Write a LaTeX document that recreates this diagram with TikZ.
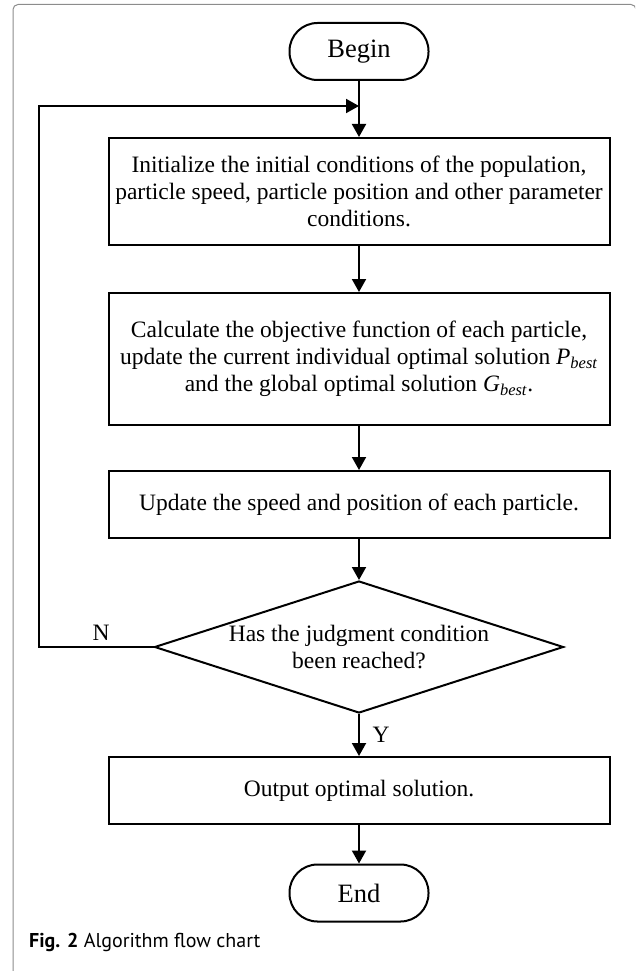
\documentclass[tikz,border=0pt]{standalone}
\usepackage{fontspec}
\setmainfont{Liberation Serif}
\newfontfamily\capfont{PT Sans}
\usetikzlibrary{arrows.meta,shapes.geometric}
\tikzset{
  every node/.style={font=\fontsize{23.5}{27}\selectfont},
  procbox/.style={draw, line width=2pt, minimum width=501pt, align=center, inner sep=0pt},
  termbox/.style={draw, line width=2pt, minimum width=139pt, minimum height=57pt, rounded corners=28pt, font=\fontsize{26.5}{30}\selectfont},
  decbox/.style={draw, line width=2pt, diamond, aspect=3.1, minimum width=409pt, minimum height=132pt, inner sep=0pt, align=center},
  flow/.style={line width=2pt, -{Triangle[length=13pt,width=14pt]}},
  lbl/.style={inner sep=0pt},
  captext/.style={anchor=west, inner sep=0pt, font=\capfont\fontsize{20}{24}\selectfont},
}
\begin{document}
\begin{tikzpicture}[x=1pt,y=1pt]
\useasboundingbox (0,0) rectangle (635,-971);
\begin{scope}
\clip (0,0) rectangle (635,-971);
\draw[line width=1pt, black!45, rounded corners=5pt] (13,-4.5) rectangle (636,-1000);
\end{scope}
\node[termbox] (begin) at (359,-51.5) {Begin};
\node[procbox, minimum height=107pt] (box1) at (359,-191.5) {Initialize the initial conditions of the population,\\ particle speed, particle position and other parameter\\ conditions.};
\node[procbox, minimum height=132pt] (box2) at (359,-359) {Calculate the objective function of each particle,\\ update the current individual optimal solution \textit{P}\textsubscript{\textit{best}}\\ and the global optimal solution \textit{G}\textsubscript{\textit{best}}.};
\node[procbox, minimum height=67pt] (box3) at (359,-504.5) {Update the speed and position of each particle.};
\node[decbox] (dec) at (359,-647) {Has the judgment condition\\ been reached?};
\node[procbox, minimum height=67pt] (box4) at (359,-790.5) {Output optimal solution.};
\node[termbox] (end) at (359,-893) {End};
\coordinate (join) at (359,-106);
\coordinate (lt) at (38.5,-106);
\coordinate (lb) at (38.5,-647);
\draw[flow] (begin) -- (box1);
\draw[flow] (box1) -- (box2);
\draw[flow] (box2) -- (box3);
\draw[flow] (box3) -- (dec);
\draw[flow] (dec) -- (box4);
\draw[flow] (box4) -- (end);
\draw[flow] (dec.west) -- (lb) -- (lt) -- (join);
\node[lbl] (nlab) at (101,-633) {N};
\node[lbl] (ylab) at (381,-735) {Y};
\node[captext] (cap) at (29,-942) {\textbf{Fig. 2} Algorithm flow chart};
\end{tikzpicture}
\end{document}
